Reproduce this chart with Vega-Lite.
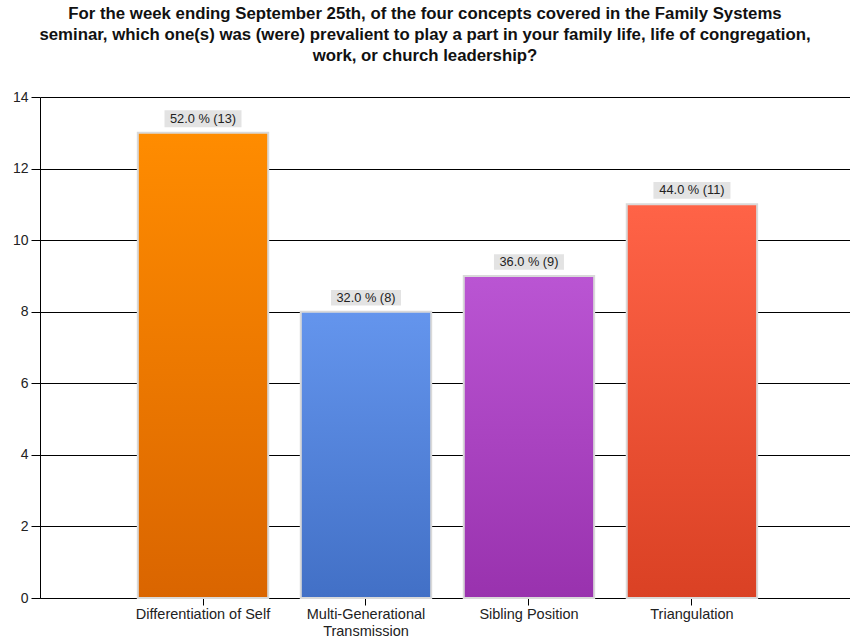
{
  "$schema": "https://vega.github.io/schema/vega-lite/v6.json",
  "width": 810,
  "height": 501,
  "autosize": {"type": "none"},
  "padding": {"left": 40, "top": 97, "right": 0, "bottom": 40},
  "background": "white",
  "title": {
    "text": [
      "For the week ending September 25th, of the four concepts covered in the Family Systems",
      "seminar, which one(s) was (were) prevalient to play a part in your family life, life of congregation,",
      "work, or church leadership?"
    ],
    "font": "Liberation Sans",
    "fontSize": 16.8,
    "fontWeight": "bold",
    "color": "#111111",
    "anchor": "middle",
    "frame": "group",
    "dx": -20,
    "lineHeight": 21,
    "offset": 25
  },
  "data": {
    "values": [
      {"concept": "Differentiation of Self", "count": 13, "label": "52.0 % (13)"},
      {"concept": "Multi-Generational Transmission", "count": 8, "label": "32.0 % (8)"},
      {"concept": "Sibling Position", "count": 9, "label": "36.0 % (9)"},
      {"concept": "Triangulation", "count": 11, "label": "44.0 % (11)"}
    ]
  },
  "encoding": {
    "x": {
      "field": "concept",
      "type": "nominal",
      "sort": null,
      "title": null,
      "scale": {"paddingInner": 0.2, "paddingOuter": 0.585, "align": 0.513},
      "axis": {
        "labelAngle": 0,
        "labelFont": "Liberation Sans",
        "labelFontSize": 14.5,
        "labelColor": "#222222",
        "labelPadding": 2,
        "labelLineHeight": 17,
        "labelExpr": "datum.value == 'Multi-Generational Transmission' ? ['Multi-Generational', 'Transmission'] : datum.label",
        "domainColor": "#000000",
        "tickColor": "#000000",
        "tickSize": 7,
        "grid": false
      }
    },
    "y": {
      "field": "count",
      "type": "quantitative",
      "title": null,
      "scale": {"domain": [0, 14], "nice": false},
      "axis": {
        "values": [0, 2, 4, 6, 8, 10, 12, 14],
        "labelFont": "Liberation Sans",
        "labelFontSize": 14,
        "labelColor": "#222222",
        "labelPadding": 3,
        "domainColor": "#000000",
        "tickColor": "#000000",
        "tickSize": 9,
        "grid": true,
        "gridColor": "#000000",
        "gridOpacity": 1,
        "gridWidth": 1
      }
    }
  },
  "layer": [
    {
      "transform": [{"filter": "datum.concept == 'Differentiation of Self'"}],
      "mark": {
        "type": "bar",
        "stroke": "#d9d9d9",
        "strokeWidth": 2,
        "fill": {"x1": 0, "y1": 0, "x2": 0, "y2": 1, "gradient": "linear",
          "stops": [{"offset": 0, "color": "#FF8C00"}, {"offset": 1, "color": "#DA6500"}]}
      }
    },
    {
      "transform": [{"filter": "datum.concept == 'Multi-Generational Transmission'"}],
      "mark": {
        "type": "bar",
        "stroke": "#d9d9d9",
        "strokeWidth": 2,
        "fill": {"x1": 0, "y1": 0, "x2": 0, "y2": 1, "gradient": "linear",
          "stops": [{"offset": 0, "color": "#6495ED"}, {"offset": 1, "color": "#4270C6"}]}
      }
    },
    {
      "transform": [{"filter": "datum.concept == 'Sibling Position'"}],
      "mark": {
        "type": "bar",
        "stroke": "#d9d9d9",
        "strokeWidth": 2,
        "fill": {"x1": 0, "y1": 0, "x2": 0, "y2": 1, "gradient": "linear",
          "stops": [{"offset": 0, "color": "#BA55D3"}, {"offset": 1, "color": "#9932AE"}]}
      }
    },
    {
      "transform": [{"filter": "datum.concept == 'Triangulation'"}],
      "mark": {
        "type": "bar",
        "stroke": "#d9d9d9",
        "strokeWidth": 2,
        "fill": {"x1": 0, "y1": 0, "x2": 0, "y2": 1, "gradient": "linear",
          "stops": [{"offset": 0, "color": "#FF6347"}, {"offset": 1, "color": "#DA4124"}]}
      }
    },
    {
      "mark": {
        "type": "point",
        "shape": "M-1,-0.22H1V0.22H-1Z",
        "filled": true,
        "fill": "#e3e3e3",
        "opacity": 1,
        "strokeWidth": 0,
        "yOffset": -14
      },
      "encoding": {
        "size": {"condition": {"test": "datum.count >= 10", "value": 5929}, "value": 4900}
      }
    },
    {
      "mark": {
        "type": "text",
        "font": "Liberation Sans",
        "fontSize": 12.8,
        "color": "#222222",
        "baseline": "middle",
        "align": "center",
        "yOffset": -14
      },
      "encoding": {"text": {"field": "label", "type": "nominal"}}
    }
  ],
  "config": {"view": {"stroke": null}}
}
